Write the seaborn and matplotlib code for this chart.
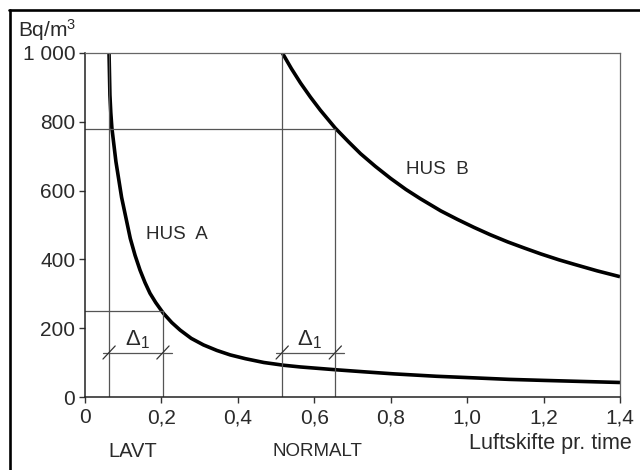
import matplotlib
matplotlib.use("Agg")
import matplotlib.pyplot as plt
from matplotlib.lines import Line2D
import matplotlib.transforms as mtransforms
import pandas as pd
import seaborn as sns

# ---- data ----
hus_a_x = [0.0629, 0.0652, 0.0675, 0.0704, 0.0809, 0.0958, 0.1185, 0.131, 0.144, 0.157,
           0.170, 0.185, 0.205, 0.227, 0.249, 0.278, 0.310, 0.345, 0.380, 0.420,
           0.468, 0.520, 0.564, 0.655, 0.730, 0.808, 0.920, 1.027, 1.110, 1.202,
           1.300, 1.400]
hus_a_y = [1000, 877, 826, 781, 684, 580, 461, 412, 369, 333,
           302, 275, 244, 217, 195, 171, 152, 136, 123, 112,
           101, 93, 88, 80, 74, 68, 61, 56, 52, 49,
           46, 43]

hus_b_x = [0.516, 0.540, 0.564, 0.590, 0.616, 0.655, 0.690, 0.721, 0.760, 0.800,
           0.840, 0.878, 0.931, 0.975, 1.018, 1.060, 1.106, 1.150, 1.193, 1.240,
           1.280, 1.340, 1.400]
hus_b_y = [1000, 954, 912, 871, 833, 781, 741, 707, 670, 635,
           603, 576, 541, 516, 493, 472, 451, 433, 416, 399,
           386, 367, 350]

x_ticks = [0, 0.2, 0.4, 0.6, 0.8, 1.0, 1.2, 1.4]
x_tick_labels = ["0", "0,2", "0,4", "0,6", "0,8", "1,0", "1,2", "1,4"]
y_ticks = [0, 200, 400, 600, 800, 1000]
y_tick_labels = ["0", "200", "400", "600", "800", "1 000"]

# reference construction values
lavt_x = 0.063
lavt_x2 = 0.204
lavt_level = 250
normalt_x = 0.516
normalt_x2 = 0.655
normalt_level = 780
delta_level = 130

sns.set_theme(style="white")
plt.rcParams["font.family"] = ["Liberation Sans", "DejaVu Sans"]
plt.rcParams["mathtext.fontset"] = "custom"
plt.rcParams["mathtext.rm"] = "Liberation Sans"
plt.rcParams["mathtext.it"] = "Liberation Sans"

TXT = "#2a2a2a"

fig = plt.figure(figsize=(6.4, 4.7), dpi=100)
ax = fig.add_axes([85 / 640, 72.7 / 470, 535 / 640, 344.6 / 470])

df_a = pd.DataFrame({"x": hus_a_x, "y": hus_a_y})
df_b = pd.DataFrame({"x": hus_b_x, "y": hus_b_y})
sns.lineplot(data=df_a, x="x", y="y", ax=ax, color="black", lw=2.6, sort=False,
             solid_capstyle="butt", solid_joinstyle="round")
sns.lineplot(data=df_b, x="x", y="y", ax=ax, color="black", lw=2.6, sort=False,
             solid_capstyle="butt", solid_joinstyle="round")

thin = dict(color="#555555", lw=0.9)
# construction lines
ax.plot([lavt_x, lavt_x], [0, 1000], **thin)
ax.plot([lavt_x2, lavt_x2], [0, lavt_level], **thin)
ax.plot([0, lavt_x2], [lavt_level, lavt_level], **thin)
ax.plot([normalt_x, normalt_x], [0, 1000], **thin)
ax.plot([normalt_x2, normalt_x2], [0, normalt_level], **thin)
ax.plot([0, normalt_x2], [normalt_level, normalt_level], **thin)

# dimension lines with slashes
for a, b in [(lavt_x, lavt_x2), (normalt_x, normalt_x2)]:
    ax.plot([a - 0.016, b + 0.024], [delta_level, delta_level], **thin)
    for xx in (a, b):
        ax.plot([xx - 0.016, xx + 0.016], [delta_level - 19, delta_level + 19],
                color="#333333", lw=0.9)
    ax.text((a + b) / 2 + 0.003, 168, r"$\Delta_1$", ha="center", va="center",
            fontsize=16, color=TXT)

ax.text(0.240, 471, "HUS  A", ha="center", va="center", fontsize=13.5, color=TXT)
ax.text(0.922, 660, "HUS  B", ha="center", va="center", fontsize=13.5, color=TXT)

trans = mtransforms.blended_transform_factory(ax.transData, ax.transAxes)
ax.text(0.126, -0.156, "LAVT", transform=trans, ha="center", va="center",
        fontsize=14.5, color=TXT)
ax.text(0.607, -0.156, "NORMALT", transform=trans, ha="center", va="center",
        fontsize=13.5, color=TXT)
ax.text(1.022, -0.135, "Luftskifte pr. time", transform=ax.transAxes, ha="right",
        va="center", fontsize=15.5, color=TXT)

fig.text(18 / 640, 1 - 37 / 470, r"Bq/m$^3$", ha="left", va="baseline", fontsize=15,
         color=TXT)

ax.set_xlim(0, 1.4)
ax.set_ylim(0, 1000)
ax.set_xticks(x_ticks)
ax.set_xticklabels(x_tick_labels)
ax.set_yticks(y_ticks)
ax.set_yticklabels(y_tick_labels)
ax.set_xlabel("")
ax.set_ylabel("")
ax.tick_params(axis="both", direction="out", length=4, width=1, color="#333333",
               labelsize=15, labelcolor=TXT, left=True, bottom=True)
ax.tick_params(axis="x", pad=4)
ax.tick_params(axis="y", pad=3)

for side in ["left", "bottom"]:
    ax.spines[side].set_color("#222222")
    ax.spines[side].set_linewidth(1.1)
for side in ["top", "right"]:
    ax.spines[side].set_color("#666666")
    ax.spines[side].set_linewidth(0.9)
    ax.spines[side].set_visible(True)

# outer frame (top and left only, as in the reference)
fig.add_artist(Line2D([9.5 / 640, 9.5 / 640], [0, 1 - 9.5 / 470],
                      transform=fig.transFigure, color="black", lw=1.9))
fig.add_artist(Line2D([8.5 / 640, 1], [1 - 9.5 / 470, 1 - 9.5 / 470],
                      transform=fig.transFigure, color="black", lw=1.9))

fig.savefig("out.png", dpi=100)
